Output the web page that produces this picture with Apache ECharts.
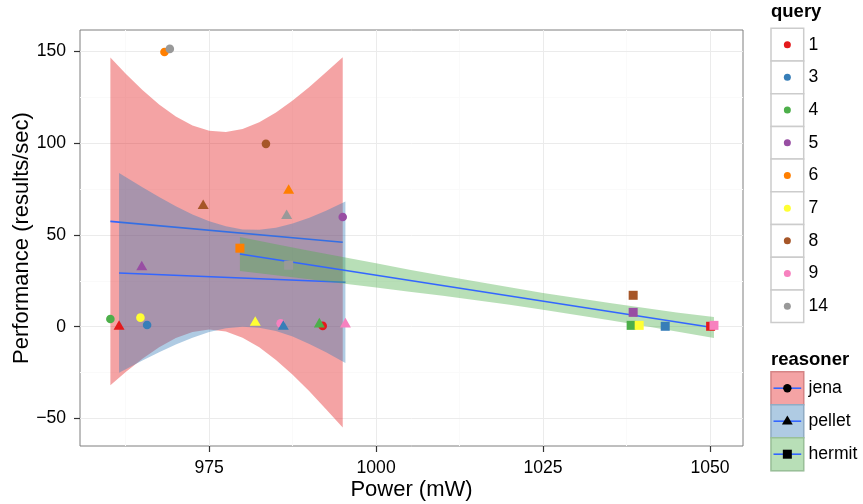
<!DOCTYPE html>
<html>
<head>
<meta charset="utf-8">
<title>Performance vs Power</title>
<script src="https://cdn.jsdelivr.net/npm/echarts@6/dist/echarts.min.js"></script>
<style>
  html, body { margin: 0; padding: 0; background: #fff; }
  #chart { width: 863px; height: 504px; }
</style>
</head>
<body>
<div id="chart"></div>
<script>
// --- Data ---
const queries = ['1', '3', '4', '5', '6', '7', '8', '9', '14'];
const queryColors = ['#E41A1C', '#377EB8', '#4DAF4A', '#984EA3', '#FF7F00', '#FFFF33', '#A65628', '#F781BF', '#999999'];
const reasoners = ['jena', 'pellet', 'hermit'];
const reasonerFills = ['rgba(228,26,28,0.4)', 'rgba(55,126,184,0.4)', 'rgba(77,175,74,0.4)'];

// points, in query order
const jenaPower = [992.0, 965.7, 960.2, 995.0, 968.3, 964.7, 983.5, 985.7, 969.1];
const jenaPerf = [0.4, 0.9, 4.2, 59.8, 149.8, 4.9, 99.7, 1.8, 151.5];
const pelletPower = [961.5, 986.1, 991.5, 964.9, 986.9, 981.9, 974.1, 995.4, 986.6];
const pelletPerf = [0.0, 0.0, 1.3, 32.5, 74.2, 2.2, 65.9, 1.3, 60.4];
const hermitPower = [1050.1, 1043.3, 1038.2, 1038.5, 979.6, 1039.4, 1038.5, 1050.6, 986.9];
const hermitPerf = [0.2, 0.2, 0.7, 7.8, 42.8, 0.7, 17.1, 0.7, 33.5];

// fitted lines (end points)
const jenaFit = [[960.2, 57.4], [995.0, 46.0]];
const pelletFit = [[961.5, 29.3], [995.4, 24.2]];
const hermitFit = [[979.6, 39.6], [1050.6, -0.6]];

// confidence bands
const jenaBandX = [960.2, 962.5, 965, 967.5, 970, 972.5, 975, 977.5, 980, 982.5, 985, 987.5, 990, 992.5, 995.0];
const jenaBandLow = [-32.0, -24.7, -17.5, -11.2, -6.2, -2.9, -1.6, -2.7, -6.0, -11.3, -18.2, -26.3, -35.3, -45.0, -55.0];
const jenaBandHigh = [146.8, 137.9, 129.1, 121.2, 114.6, 109.7, 106.8, 106.1, 107.8, 111.5, 116.8, 123.3, 130.7, 138.8, 147.0];
const pelletBandX = [961.5, 965, 967.5, 970, 972.5, 975, 977.5, 980, 982.5, 985, 987.5, 990, 992.5, 995.4];
const pelletBandLow = [-25.2, -18.4, -13.9, -9.7, -6.0, -2.9, -0.9, 0.0, -0.6, -2.4, -5.4, -9.4, -14.0, -19.8];
const pelletBandHigh = [83.8, 76.0, 70.7, 65.7, 61.2, 57.5, 54.7, 53.0, 52.8, 54.0, 56.2, 59.4, 63.2, 68.2];
const hermitBandX = [979.6, 985, 990, 995, 1000, 1005, 1010, 1015, 1020, 1025, 1030, 1035, 1040, 1045, 1050.6];
const hermitBandLow = [30.4, 28.0, 25.8, 23.6, 21.4, 19.1, 16.8, 14.4, 11.9, 9.2, 6.4, 3.5, 0.5, -2.7, -6.2];
const hermitBandHigh = [48.9, 45.0, 41.4, 38.0, 34.6, 31.1, 27.8, 24.6, 21.5, 18.4, 15.6, 12.9, 10.3, 7.7, 5.2];

// axes
const xRange = [955.65, 1054.95];
const yRange = [-65.1, 161.8];
const xTicks = [975, 1000, 1025, 1050];
const xMinor = [962.5, 987.5, 1012.5, 1037.5];
const yTicks = [-50, 0, 50, 100, 150];
const yMinor = [-25, 25, 75, 125];

const FONT = '"Liberation Sans", Arial, Helvetica, sans-serif';
const LINE_BLUE = '#3366FF';

const chart = echarts.init(document.getElementById('chart'));

function bandSeries(name, xs, lo, hi, fill, z) {
    return {
        name: name + ' band',
        type: 'custom',
        z: z,
        silent: true,
        data: xs.map((x, i) => [x, lo[i], hi[i]]),
        encode: { x: 0, y: [1, 2] },
        renderItem: function (params, api) {
            if (params.dataIndex !== 0) return null;
            const top = xs.map((x, i) => api.coord([x, hi[i]]));
            const bottom = xs.map((x, i) => api.coord([x, lo[i]])).reverse();
            return { type: 'polygon', shape: { points: top.concat(bottom) }, style: { fill: fill } };
        }
    };
}

function fitSeries(name, pts, z) {
    return {
        name: name + ' fit',
        type: 'line',
        z: z,
        silent: true,
        symbol: 'none',
        data: pts,
        lineStyle: { color: LINE_BLUE, width: 1.6 }
    };
}

function pointSeries(name, power, perf, symbol, size, offset) {
    return {
        name: name,
        type: 'scatter',
        z: 10,
        silent: true,
        symbol: symbol,
        symbolSize: size,
        symbolOffset: offset,
        data: power.map((x, i) => ({ value: [x, perf[i]], itemStyle: { color: queryColors[i], opacity: 1 } }))
    };
}

// grid lines (major + minor) drawn as mark lines between coordinates
const gridLineData = [];
function vLine(v, color) {
    gridLineData.push([{ coord: [v, yRange[0]], lineStyle: { color: color, width: 1, type: 'solid' } }, { coord: [v, yRange[1]] }]);
}
function hLine(v, color) {
    gridLineData.push([{ coord: [xRange[0], v], lineStyle: { color: color, width: 1, type: 'solid' } }, { coord: [xRange[1], v] }]);
}
xMinor.forEach(v => vLine(v, '#FAFAFA'));
yMinor.forEach(v => hLine(v, '#FAFAFA'));
xTicks.forEach(v => vLine(v, '#EBEBEB'));
yTicks.forEach(v => hLine(v, '#EBEBEB'));

// --- Legends (ggplot style keys) ---
const graphics = [];
const KEY = 32.7;
const keyX = 771;
const labelX = 808.5;

graphics.push({
    type: 'text', x: keyX, y: 12,
    style: { text: 'query', fontFamily: FONT, fontSize: 18.5, fontWeight: 'bold', fill: '#000', verticalAlign: 'middle' }
});
queries.forEach((q, i) => {
    const y0 = 28.3 + i * KEY;
    graphics.push({ type: 'rect', shape: { x: keyX, y: y0, width: KEY, height: KEY }, style: { fill: '#fff', stroke: '#CCCCCC', lineWidth: 1.5 } });
    graphics.push({ type: 'circle', shape: { cx: keyX + KEY / 2, cy: y0 + KEY / 2, r: 3.5 }, style: { fill: queryColors[i] } });
    graphics.push({
        type: 'text', x: labelX, y: y0 + KEY / 2,
        style: { text: q, fontFamily: FONT, fontSize: 17.6, fill: '#000', verticalAlign: 'middle' }
    });
});

graphics.push({
    type: 'text', x: keyX, y: 359.5,
    style: { text: 'reasoner', fontFamily: FONT, fontSize: 18.5, fontWeight: 'bold', fill: '#000', verticalAlign: 'middle' }
});
reasoners.forEach((r, i) => {
    const y0 = 371.7 + i * 33;
    const cx = keyX + KEY / 2;
    const cy = y0 + 33 / 2;
    graphics.push({ type: 'rect', shape: { x: keyX, y: y0, width: KEY, height: 33 }, style: { fill: '#fff', stroke: '#CCCCCC', lineWidth: 1.5 } });
    graphics.push({ type: 'rect', shape: { x: keyX - 0.75, y: y0 - 0.75, width: KEY + 1.5, height: 34.5 }, style: { fill: reasonerFills[i] } });
    graphics.push({ type: 'line', shape: { x1: keyX + 2.5, y1: cy, x2: keyX + KEY - 2.5, y2: cy }, style: { stroke: LINE_BLUE, lineWidth: 1.6 } });
    if (i === 0) {
        graphics.push({ type: 'circle', shape: { cx: cx, cy: cy, r: 4.2 }, style: { fill: '#000' } });
    } else if (i === 1) {
        graphics.push({ type: 'polygon', shape: { points: [[cx, cy - 5.6], [cx + 5.4, cy + 3.4], [cx - 5.4, cy + 3.4]] }, style: { fill: '#000' } });
    } else {
        graphics.push({ type: 'rect', shape: { x: cx - 4.5, y: cy - 4.5, width: 9, height: 9 }, style: { fill: '#000' } });
    }
    graphics.push({
        type: 'text', x: labelX, y: cy,
        style: { text: r, fontFamily: FONT, fontSize: 17.6, fill: '#000', verticalAlign: 'middle' }
    });
});

const option = {
    animation: false,
    backgroundColor: '#fff',
    textStyle: { fontFamily: FONT },
    grid: {
        left: 80, top: 30, width: 663, height: 416,
        containLabel: false, outerBoundsMode: 'none',
        show: true, backgroundColor: '#fff', borderColor: '#7F7F7F', borderWidth: 1
    },
    xAxis: {
        type: 'value',
        min: xRange[0], max: xRange[1],
        name: 'Power (mW)',
        nameLocation: 'middle',
        nameGap: 33,
        nameMoveOverlap: false,
        nameTextStyle: { fontSize: 22, color: '#000', fontFamily: FONT },
        axisLine: { show: false, onZero: false },
        splitLine: { show: false },
        axisTick: { show: true, customValues: xTicks, length: 6, lineStyle: { color: '#333', width: 1.2 } },
        axisLabel: {
            customValues: xTicks, fontSize: 17.6, color: '#000', margin: 13, fontFamily: FONT,
            formatter: v => String(v)
        }
    },
    yAxis: {
        type: 'value',
        min: yRange[0], max: yRange[1],
        name: 'Performance (results/sec)',
        nameLocation: 'middle',
        nameGap: 47,
        nameMoveOverlap: false,
        nameTextStyle: { fontSize: 22, color: '#000', fontFamily: FONT },
        axisLine: { show: false, onZero: false },
        splitLine: { show: false },
        axisTick: { show: true, customValues: yTicks, length: 6, lineStyle: { color: '#333', width: 1.2 } },
        axisLabel: {
            customValues: yTicks, fontSize: 17.6, color: '#000', margin: 14, fontFamily: FONT,
            formatter: v => (v < 0 ? '\u2212' + (-v) : String(v))
        }
    },
    graphic: graphics,
    series: [
        {
            name: 'grid',
            type: 'line',
            data: [],
            z: 1,
            silent: true,
            markLine: { silent: true, z: 1, symbol: ['none', 'none'], label: { show: false }, animation: false, data: gridLineData }
        },
        bandSeries('jena', jenaBandX, jenaBandLow, jenaBandHigh, reasonerFills[0], 2),
        fitSeries('jena', jenaFit, 3),
        bandSeries('pellet', pelletBandX, pelletBandLow, pelletBandHigh, reasonerFills[1], 4),
        fitSeries('pellet', pelletFit, 5),
        bandSeries('hermit', hermitBandX, hermitBandLow, hermitBandHigh, reasonerFills[2], 6),
        fitSeries('hermit', hermitFit, 7),
        pointSeries('jena', jenaPower, jenaPerf, 'circle', 8.6, [0, 0]),
        pointSeries('pellet', pelletPower, pelletPerf, 'triangle', [11, 9.6], [0, '-16.7%']),
        pointSeries('hermit', hermitPower, hermitPerf, 'rect', 9, [0, 0])
    ]
};

chart.setOption(option);

window.addEventListener('resize', function () {
    chart.resize();
});
</script>
</body>
</html>
